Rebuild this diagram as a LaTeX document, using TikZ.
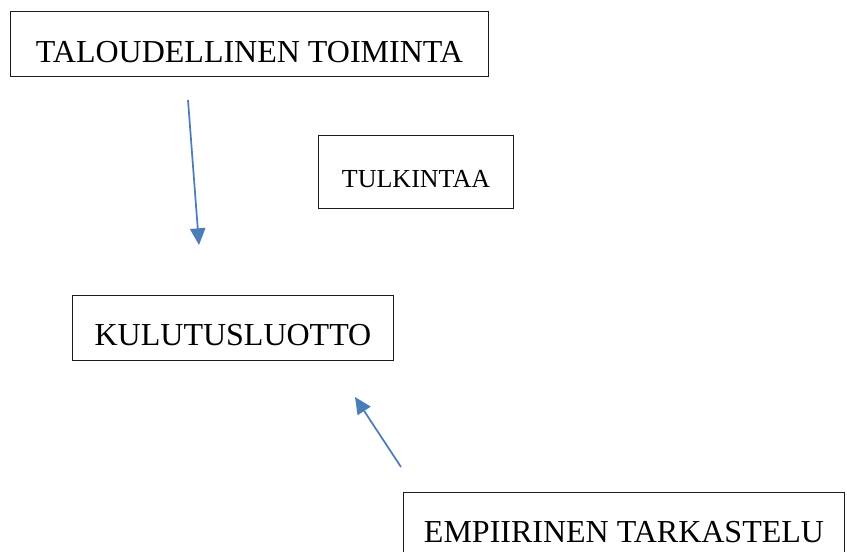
\documentclass[tikz,border=0pt]{standalone}
\usepackage{fontspec}
\setmainfont{Liberation Serif}
\usepackage{xcolor}
\usepackage{tikz}
\usetikzlibrary{arrows.meta}
\definecolor{reuna}{HTML}{1A1A1A}
\definecolor{nuoli}{HTML}{4A7EBB}
\tikzset{
  >={Triangle[length=12.5pt,width=11.5pt]},
  laatikko/.style={draw=reuna, line width=0.75pt, inner sep=0pt, anchor=north west,
                   text depth=0pt, font=\fontsize{24}{28}\selectfont},
  l/.style={->, line width=1.3pt, draw=nuoli, fill=nuoli},
}
\begin{document}
\begin{tikzpicture}[x=0.75pt,y=-0.75pt]
  \useasboundingbox (0,0) rectangle (847,551);
  \node[laatikko,minimum width=358.5pt,minimum height=48.75pt,text height=27.9pt] (talous) at (10,11) {TALOUDELLINEN TOIMINTA};
  \node[laatikko,minimum width=146.25pt,minimum height=54.75pt,text height=23.4pt,
        font=\fontsize{19.5}{23}\selectfont] (tulkinta) at (318,135) {TULKINTAA};
  \node[laatikko,minimum width=240.75pt,minimum height=48.75pt,text height=25.7pt] (luotto) at (72,295) {KULUTUSLUOTTO};
  \node[laatikko,minimum width=330.75pt,minimum height=48.75pt,text height=25.7pt] (empiria) at (403,492) {EMPIIRINEN TARKASTELU};
  % nuolet eivat kosketa laatikoita
  \coordinate (n1a) at (188,100);
  \coordinate (n1b) at (199,245);
  \coordinate (n2a) at (401,467);
  \coordinate (n2b) at (355,397);
  \draw[l](n1a)--(n1b);
  \draw[l](n2a)--(n2b);
\end{tikzpicture}
\end{document}
